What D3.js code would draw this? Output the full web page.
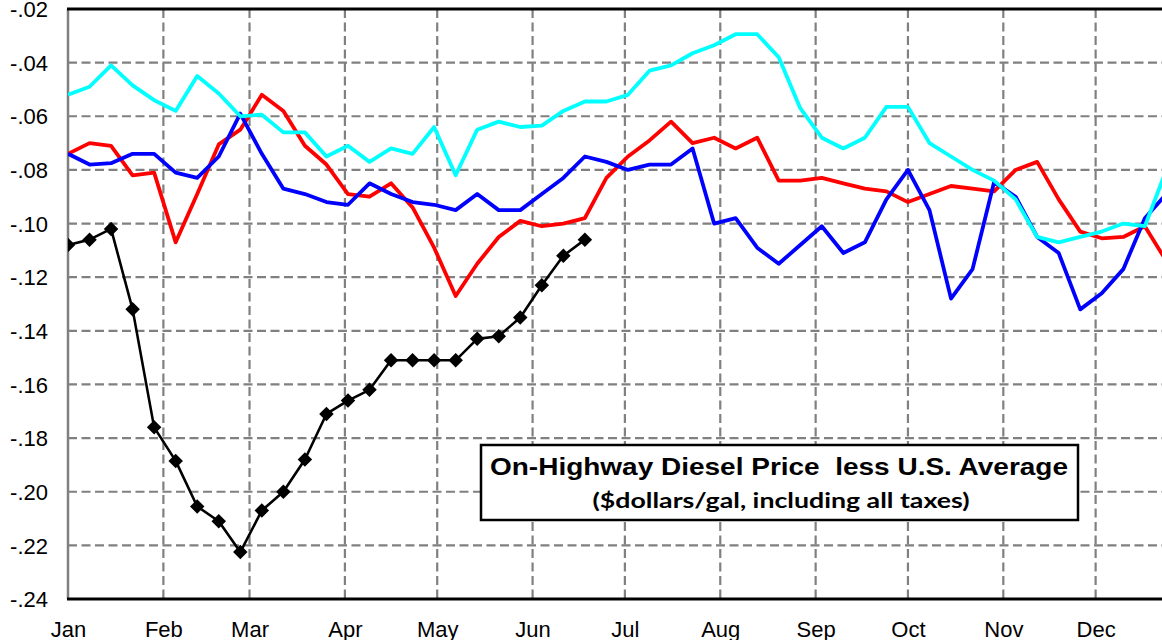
<!DOCTYPE html>
<html>
<head>
<meta charset="utf-8">
<script src="https://cdn.jsdelivr.net/npm/d3@7"></script>
<style>
  html, body { margin: 0; padding: 0; background: #fff; }
  svg { display: block; }
</style>
</head>
<body>
<svg id="chart" width="1162" height="640"></svg>
<script>
// Weekly spread of on-highway diesel price vs. the U.S. average ($/gal)
const months = ["Jan","Feb","Mar","Apr","May","Jun","Jul","Aug","Sep","Oct","Nov","Dec"];
const monthStartDays = [0,31,59,90,120,151,181,212,243,273,304,334];
const yTicks = [-0.02,-0.04,-0.06,-0.08,-0.10,-0.12,-0.14,-0.16,-0.18,-0.20,-0.22,-0.24];
const yTickLabels = ["-.02","-.04","-.06","-.08","-.10","-.12","-.14","-.16","-.18","-.20","-.22","-.24"];

// one value per week, starting the first week of January
const redSeries = [
  -0.074,-0.070,-0.071,-0.082,-0.081,-0.107,-0.089,-0.0705,-0.065,-0.052,
  -0.058,-0.071,-0.078,-0.089,-0.090,-0.085,-0.094,-0.109,-0.127,-0.115,
  -0.105,-0.099,-0.101,-0.100,-0.098,-0.083,-0.075,-0.069,-0.062,-0.070,
  -0.068,-0.072,-0.068,-0.084,-0.084,-0.083,-0.085,-0.087,-0.088,-0.092,
  -0.089,-0.086,-0.087,-0.088,-0.080,-0.077,-0.091,-0.103,-0.1055,-0.105,
  -0.101,-0.114
];
const blueSeries = [
  -0.074,-0.078,-0.0775,-0.074,-0.074,-0.081,-0.083,-0.075,-0.059,-0.074,
  -0.087,-0.089,-0.092,-0.093,-0.085,-0.089,-0.092,-0.093,-0.095,-0.089,
  -0.095,-0.095,-0.089,-0.083,-0.075,-0.077,-0.080,-0.078,-0.078,-0.072,
  -0.100,-0.098,-0.109,-0.115,-0.108,-0.101,-0.111,-0.107,-0.091,-0.080,
  -0.095,-0.128,-0.117,-0.0845,-0.090,-0.105,-0.111,-0.132,-0.126,-0.117,
  -0.098,-0.089
];
const cyanSeries = [
  -0.052,-0.049,-0.041,-0.0485,-0.054,-0.058,-0.045,-0.0515,-0.060,-0.0594,
  -0.066,-0.066,-0.075,-0.071,-0.077,-0.072,-0.074,-0.064,-0.082,-0.065,
  -0.062,-0.064,-0.0635,-0.058,-0.0545,-0.0545,-0.052,-0.043,-0.041,-0.0365,
  -0.0335,-0.0294,-0.0294,-0.038,-0.057,-0.068,-0.072,-0.068,-0.0565,-0.0565,
  -0.070,-0.075,-0.080,-0.084,-0.091,-0.105,-0.107,-0.105,-0.103,-0.100,
  -0.101,-0.080
];
const blackSeries = [
  -0.108,-0.106,-0.102,-0.132,-0.176,-0.1885,-0.2055,-0.211,-0.2225,-0.207,
  -0.200,-0.188,-0.171,-0.166,-0.162,-0.151,-0.151,-0.151,-0.151,-0.143,
  -0.142,-0.135,-0.123,-0.112,-0.106
];

const titleText = "On-Highway Diesel Price  less U.S. Average";
const subtitleText = "($dollars/gal, including all taxes)";

const svg = d3.select("#chart");
const W = 1162, H = 640;
const plot = { left: 68, right: 1191, top: 9, bottom: 599 };

const x = d3.scaleLinear().domain([0, 365]).range([plot.left, plot.right]);
const y = d3.scaleLinear().domain([-0.24, -0.02]).range([plot.bottom, plot.top]);
const weekDay = i => i * 7;

svg.append("rect").attr("width", W).attr("height", H).attr("fill", "#fff");

svg.append("defs").append("clipPath").attr("id", "plotClip")
  .append("rect")
  .attr("x", plot.left).attr("y", plot.top)
  .attr("width", plot.right - plot.left).attr("height", plot.bottom - plot.top);

// dashed grid
const grid = svg.append("g").attr("stroke", "#808080").attr("stroke-width", 2.2)
  .attr("stroke-dasharray", "9,4.5").attr("fill", "none");
grid.selectAll("line.h").data(yTicks.slice(1, -1)).join("line")
  .attr("class", "h")
  .attr("x1", plot.left).attr("x2", plot.right)
  .attr("y1", d => y(d)).attr("y2", d => y(d));
grid.selectAll("line.v").data(monthStartDays.slice(1)).join("line")
  .attr("class", "v")
  .attr("x1", d => x(d)).attr("x2", d => x(d))
  .attr("y1", plot.top).attr("y2", plot.bottom);

// frame: grey left edge, black top and bottom
svg.append("line").attr("x1", plot.left).attr("x2", plot.left)
  .attr("y1", plot.top).attr("y2", plot.bottom)
  .attr("stroke", "#808080").attr("stroke-width", 2.5);
svg.append("line").attr("x1", plot.left - 1).attr("x2", plot.right)
  .attr("y1", plot.top).attr("y2", plot.top)
  .attr("stroke", "#000").attr("stroke-width", 3.2);
svg.append("line").attr("x1", plot.left - 1).attr("x2", plot.right)
  .attr("y1", plot.bottom).attr("y2", plot.bottom)
  .attr("stroke", "#000").attr("stroke-width", 3.2);

// y axis labels
const yAxis = d3.axisLeft(y).tickValues(yTicks)
  .tickFormat((d, i) => yTickLabels[i]).tickSize(0).tickPadding(20);
const yg = svg.append("g").attr("transform", `translate(${plot.left},0)`).call(yAxis);
yg.select(".domain").remove();
yg.selectAll("text").attr("font-family", "'Liberation Sans', Arial, sans-serif")
  .attr("font-size", 22).attr("fill", "#000").attr("dy", "0.35em");

// x axis labels at month starts
const xAxis = d3.axisBottom(x).tickValues(monthStartDays)
  .tickFormat((d, i) => months[i]).tickSize(0).tickPadding(22);
const xg = svg.append("g").attr("transform", `translate(0,${plot.bottom})`).call(xAxis);
xg.select(".domain").remove();
xg.selectAll("text").attr("font-family", "'Liberation Sans', Arial, sans-serif")
  .attr("font-size", 22).attr("fill", "#000");

// series lines
const lineGen = d3.line().x((d, i) => x(weekDay(i))).y(d => y(d));
const lines = svg.append("g").attr("clip-path", "url(#plotClip)");
[[redSeries, "#FF0000"], [blueSeries, "#0000FF"], [cyanSeries, "#00FFFF"]].forEach(([s, c]) => {
  lines.append("path").datum(s).attr("d", lineGen)
    .attr("fill", "none").attr("stroke", c).attr("stroke-width", 3.8)
    .attr("stroke-linejoin", "round");
});
lines.append("path").datum(blackSeries).attr("d", lineGen)
  .attr("fill", "none").attr("stroke", "#000").attr("stroke-width", 2.6)
  .attr("stroke-linejoin", "round");
const diamond = d3.symbol().type(d3.symbolSquare).size(105);
lines.selectAll("path.marker").data(blackSeries).join("path")
  .attr("class", "marker")
  .attr("d", diamond)
  .attr("transform", (d, i) => `translate(${x(weekDay(i))},${y(d)}) rotate(45)`)
  .attr("fill", "#000");

// title box
const box = svg.append("g");
box.append("rect").attr("x", 481).attr("y", 445).attr("width", 597).attr("height", 75)
  .attr("fill", "#fff").attr("stroke", "#000").attr("stroke-width", 2.5);
box.append("text").attr("x", 779).attr("y", 475).attr("text-anchor", "middle")
  .attr("font-family", "'Liberation Sans', Arial, sans-serif").attr("font-weight", "bold")
  .attr("font-size", 23).style("white-space", "pre")
  .attr("textLength", 578).attr("lengthAdjust", "spacingAndGlyphs")
  .text(titleText);
box.append("text").attr("x", 781).attr("y", 508).attr("text-anchor", "middle")
  .attr("font-family", "Lato, 'Open Sans', sans-serif").attr("font-weight", "bold")
  .attr("font-size", 21)
  .attr("textLength", 377).attr("lengthAdjust", "spacingAndGlyphs")
  .text(subtitleText);
</script>
</body>
</html>
